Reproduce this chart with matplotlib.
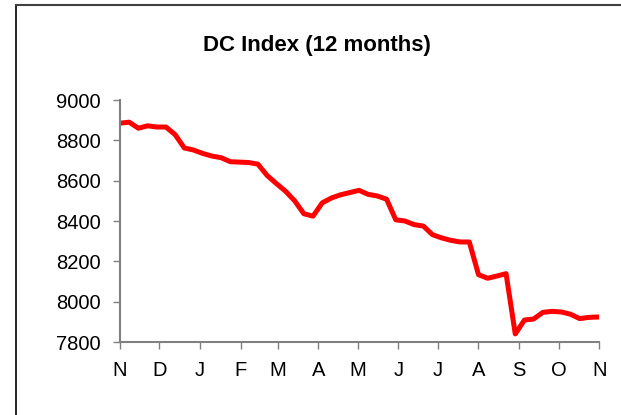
import matplotlib
matplotlib.use('Agg')
from matplotlib import pyplot as plt
from matplotlib.lines import Line2D
import pandas as pd

plt.rcParams['font.family'] = ['Liberation Sans', 'DejaVu Sans']

# weekly index values, Nov to Nov
index_values = [8885, 8890, 8860, 8872, 8866, 8866, 8828, 8762, 8752, 8735,
                8722, 8714, 8694, 8692, 8690, 8682, 8626, 8586, 8548, 8500,
                8436, 8424, 8490, 8514, 8530, 8541, 8552, 8532, 8524, 8508,
                8406, 8400, 8382, 8375, 8332, 8316, 8304, 8296, 8296, 8134,
                8116, 8127, 8139, 7840, 7909, 7914, 7947, 7952, 7949, 7938,
                7916, 7922, 7924]
dates = pd.date_range('2008-11-01', periods=len(index_values), freq='7D')

month_ticks = pd.date_range('2008-11-01', '2009-11-01', freq='MS')
month_labels = ['N', 'D', 'J', 'F', 'M', 'A', 'M', 'J', 'J', 'A', 'S', 'O', 'N']
y_ticks = [7800, 8000, 8200, 8400, 8600, 8800, 9000]

fig = plt.figure(figsize=(6.21, 4.15), dpi=100)
ax = fig.add_axes([120/621, 1 - 342/415, (599.3 - 120)/621, 242/415])

ax.plot(dates, index_values, color='#ff0000', linewidth=3.6, solid_joinstyle='round')

ax.set_xlim(month_ticks[0], month_ticks[-1])
ax.set_ylim(7800, 9000)
ax.set_xticks(month_ticks)
ax.set_xticklabels(month_labels)
ax.set_yticks(y_ticks)

for side in ['top', 'right']:
    ax.spines[side].set_visible(False)
for side in ['left', 'bottom']:
    ax.spines[side].set_color('#808080')
    ax.spines[side].set_linewidth(1.5)
ax.tick_params(axis='both', direction='out', length=5, width=1, color='#808080',
               labelsize=14.5, labelcolor='black')
ax.tick_params(axis='y', pad=9)
ax.tick_params(axis='x', pad=9)

fig.text(317/621, 1 - 45/415, 'DC Index (12 months)', ha='center', va='center',
         fontsize=16, fontweight='bold')

# outer chart border (cut off on right and bottom)
fig.add_artist(Line2D([16/621, 16/621], [0, 1 - 5/415], color='black', linewidth=1.2,
                      transform=fig.transFigure))
fig.add_artist(Line2D([16/621, 1], [1 - 5/415, 1 - 5/415], color='#404040', linewidth=1.5,
                      transform=fig.transFigure))

fig.savefig('out.png', dpi=100)
